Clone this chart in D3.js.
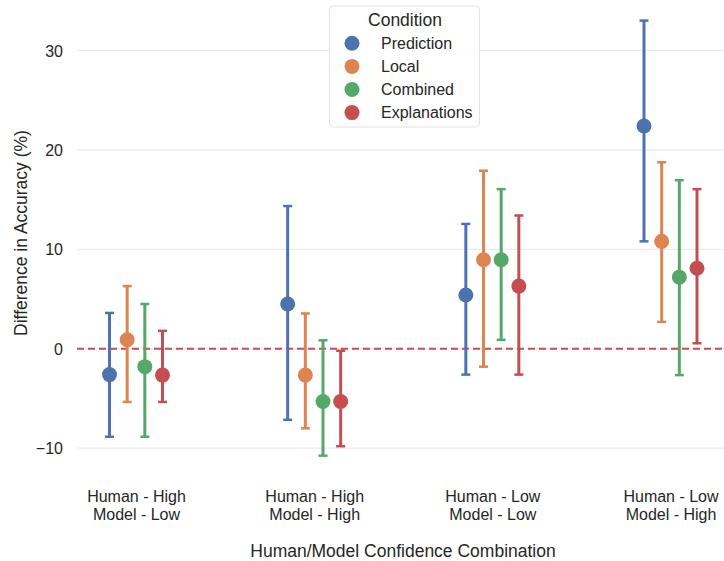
<!DOCTYPE html>
<html>
<head>
<meta charset="utf-8">
<script src="https://cdn.jsdelivr.net/npm/d3@7"></script>
<style>
  body { margin: 0; background: #fff; }
  svg { display: block; font-family: "Liberation Sans", Arial, sans-serif; }
</style>
</head>
<body>
<svg id="chart" width="724" height="561"></svg>
<script>
// ---- data ----
const categories = ["Human - High\nModel - Low", "Human - High\nModel - High", "Human - Low\nModel - Low", "Human - Low\nModel - High"];
const series = ["Prediction", "Local", "Combined", "Explanations"];
const colors = ["#4c72b0", "#dd8452", "#55a868", "#c44e52"];
// point estimates per series (one value per category)
const prediction   = [-2.6, 4.5, 5.4, 22.4];
const local        = [0.9, -2.65, 8.95, 10.8];
const combined     = [-1.8, -5.3, 8.95, 7.2];
const explanations = [-2.65, -5.3, 6.3, 8.1];
// CI lower bounds
const predictionLo   = [-8.85, -7.15, -2.6, 10.8];
const localLo        = [-5.35, -8.0, -1.8, 2.7];
const combinedLo     = [-8.85, -10.75, 0.9, -2.65];
const explanationsLo = [-5.35, -9.8, -2.6, 0.55];
// CI upper bounds
const predictionHi   = [3.6, 14.35, 12.55, 33.0];
const localHi        = [6.3, 3.55, 17.9, 18.75];
const combinedHi     = [4.5, 0.85, 16.05, 16.95];
const explanationsHi = [1.8, -0.2, 13.4, 16.05];
const yTicks = [-10, 0, 10, 20, 30];

const values = [prediction, local, combined, explanations];
const lows = [predictionLo, localLo, combinedLo, explanationsLo];
const highs = [predictionHi, localHi, combinedHi, explanationsHi];

const svg = d3.select("#chart");
const textColor = "#262626";

const x = d3.scalePoint().domain(categories).range([136, 670.5]);
const dodge = d3.scalePoint().domain(series).range([-26.5, 26.5]);
const y = d3.scaleLinear().domain([-10, 30]).range([448.2, 50.4]);

// grid
svg.append("g").selectAll("line").data(yTicks).join("line")
  .attr("x1", 77).attr("x2", 724)
  .attr("y1", d => y(d)).attr("y2", d => y(d))
  .attr("stroke", "#ebebeb").attr("stroke-width", 1.2);

// y axis (no domain line / ticks)
const yAxis = d3.axisLeft(y).tickValues(yTicks).tickSize(0).tickPadding(0)
  .tickFormat(d => d < 0 ? "\u2212" + Math.abs(d) : String(d));
const yg = svg.append("g").attr("transform", "translate(63,0)").call(yAxis);
yg.select(".domain").remove();
yg.selectAll("text").attr("font-size", 16).attr("fill", textColor)
  .attr("font-family", "Liberation Sans, Arial, sans-serif").attr("dy", "0.35em");

// x axis labels
const xAxis = d3.axisBottom(x).tickSize(0).tickFormat("");
const xg = svg.append("g").attr("transform", "translate(0,480)").call(xAxis);
xg.select(".domain").remove();
xg.selectAll(".tick").each(function(d) {
  const t = d3.select(this).append("text")
    .attr("text-anchor", "middle").attr("fill", textColor)
    .attr("font-size", 16);
  d.split("\n").forEach((line, i) => {
    t.append("tspan").attr("x", 0).attr("y", 22 + i * 18).text(line);
  });
});

// axis titles
svg.append("text").attr("x", 403).attr("y", 557)
  .attr("text-anchor", "middle").attr("font-size", 17.5).attr("fill", textColor)
  .text("Human/Model Confidence Combination");
svg.append("text")
  .attr("transform", "translate(27,233) rotate(-90)")
  .attr("text-anchor", "middle").attr("font-size", 17.5).attr("fill", textColor)
  .text("Difference in Accuracy (%)");

// reference line at 0
svg.append("line")
  .attr("x1", 77).attr("x2", 724).attr("y1", y(0)).attr("y2", y(0))
  .attr("stroke", "#c44e52").attr("stroke-width", 2)
  .attr("stroke-dasharray", "7,4");

// error bars + points
series.forEach((s, si) => {
  const g = svg.append("g");
  const data = categories.map((c, ci) => ({
    c, v: values[si][ci], lo: lows[si][ci], hi: highs[si][ci]
  }));
  const cx = d => x(d.c) + dodge(s);
  g.selectAll("line.bar").data(data).join("line").attr("class", "bar")
    .attr("x1", cx).attr("x2", cx)
    .attr("y1", d => y(d.lo)).attr("y2", d => y(d.hi))
    .attr("stroke", colors[si]).attr("stroke-width", 3);
  ["lo", "hi"].forEach(k => {
    g.selectAll("line.cap" + k).data(data).join("line").attr("class", "cap" + k)
      .attr("x1", d => cx(d) - 4.5).attr("x2", d => cx(d) + 4.5)
      .attr("y1", d => y(d[k])).attr("y2", d => y(d[k]))
      .attr("stroke", colors[si]).attr("stroke-width", 2.5);
  });
  g.selectAll("circle").data(data).join("circle")
    .attr("cx", cx).attr("cy", d => y(d.v)).attr("r", 7.5)
    .attr("fill", colors[si]);
});

// legend
const lg = svg.append("g");
lg.append("rect").attr("x", 329.5).attr("y", 6).attr("width", 150).attr("height", 121)
  .attr("rx", 4).attr("fill", "rgba(255,255,255,0.85)").attr("stroke", "#e3e3e3").attr("stroke-width", 1);
lg.append("text").attr("x", 405).attr("y", 20).attr("dy", "0.35em")
  .attr("text-anchor", "middle").attr("font-size", 17.5).attr("fill", textColor).text("Condition");
const items = lg.selectAll("g.item").data(series).join("g").attr("class", "item")
  .attr("transform", (d, i) => `translate(0,${43.3 + i * 23.1})`);
items.append("circle").attr("cx", 352).attr("cy", 0).attr("r", 7.5)
  .attr("fill", (d, i) => colors[i]);
items.append("text").attr("x", 381).attr("y", 0).attr("dy", "0.35em")
  .attr("font-size", 16).attr("fill", textColor).text(d => d);
</script>
</body>
</html>
